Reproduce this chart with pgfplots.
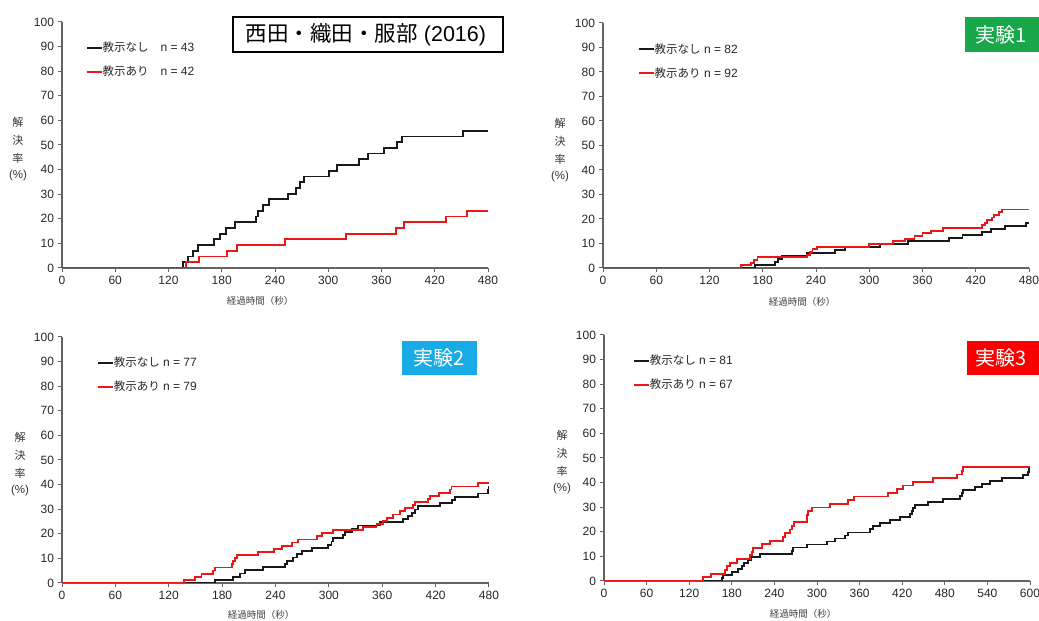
\documentclass[border=0pt]{standalone}
\usepackage{fontspec}
\setmainfont{Liberation Sans}
\newfontfamily\jp{Noto Sans CJK JP}
\usepackage{pgfplots}
\pgfplotsset{compat=1.18}
\definecolor{myred}{RGB}{235,22,22}
\definecolor{mygreen}{RGB}{24,168,74}
\definecolor{mycyan}{RGB}{25,171,230}
\definecolor{boxred}{RGB}{250,0,0}
\definecolor{axgray}{RGB}{100,100,100}
\pgfplotsset{panel/.style={
  scale only axis, width=426pt, height=246pt, anchor=south west,
  axis x line*=bottom, axis y line*=left,
  axis line style={draw=axgray, line width=1.2pt},
  xmin=0, xmax=480, ymin=0, ymax=100,
  xtick={0,60,...,480}, ytick={0,10,...,100},
  tick align=outside, major tick length=4.5pt,
  tick style={draw=axgray, line width=1pt},
  tick label style={font=\fontsize{12}{14}\selectfont, text=black!85},
  /pgf/number format/assume math mode=true,
  legend cell align=left,
  legend style={draw=none, fill=none, anchor=north west, inner sep=0pt, outer sep=0pt,
    row sep=14pt, column sep=0pt, font=\fontsize{12}{14}\selectfont, text=black!85,
    nodes={inner sep=0pt, text height=8.5pt, text depth=1.5pt, anchor=base west}},
  legend image code/.code={\draw[##1, line width=1.8pt] (0pt,4pt) -- (15pt,4pt);},
}}
\newcommand{\jl}[1]{{\jp\fontsize{11.5}{13}\selectfont #1}}
\newcommand{\ylab}[3]{%
  \node[font=\jp\fontsize{11}{12}\selectfont, text=black!80] at (#1pt,{(621-#2)*1pt}) {解};
  \node[font=\jp\fontsize{11}{12}\selectfont, text=black!80] at (#1pt,{(621-#2-18)*1pt}) {決};
  \node[font=\jp\fontsize{11}{12}\selectfont, text=black!80] at (#1pt,{(621-#2-36)*1pt}) {率};
  \node[font=\fontsize{11.5}{12}\selectfont, text=black!80] at (#1pt,{(621-#2-54)*1pt}) {(\%)};
}
\newcommand{\xlab}[2]{\node[font=\jp\fontsize{9.5}{11}\selectfont, text=black!75] at (#1pt,{(621-#2)*1pt}) {経過時間（秒）};}
\begin{document}
\begin{tikzpicture}
\path[use as bounding box] (0,0) rectangle (1039pt,621pt);
% Panel 1
\begin{axis}[panel, at={(62pt,353pt)}, legend style={at={(0.056,0.914)}}]
\addplot[const plot, black!90, line width=1.8pt] coordinates {(0,0)(136.7,2.33)(141.6,4.65)(148,6.98)(152.9,9.30)(171.6,11.63)(178,13.95)(184.8,16.28)(194.9,18.60)(218.2,20.93)(221.2,23.26)(226.1,25.58)(233.2,27.91)(254.3,30.23)(263.7,32.56)(268.2,34.88)(272.7,37.21)(300.5,39.53)(310.3,41.86)(335,44.19)(345.2,46.51)(362.8,48.84)(377.1,51.16)(382.7,53.49)(452.2,55.81)(480,55.81)};
\addlegendentry{\jl{教示なし}\hspace{12pt}n = 43}
\addplot[const plot, myred, line width=1.8pt] coordinates {(0,0)(139.4,2.33)(154,4.66)(185.5,6.99)(196.8,9.32)(251.3,11.65)(320,13.98)(376.4,16.31)(385.4,18.64)(432.3,20.97)(456.7,23.30)(480,23.30)};
\addlegendentry{\jl{教示あり}\hspace{12pt}n = 42}
\end{axis}
% Panel 2
\begin{axis}[panel, at={(603pt,353pt)}, height=245pt, legend style={at={(0.082,0.912)}}]
\addplot[const plot, black!90, line width=1.8pt] coordinates {(0,0)(171.3,1.22)(193.8,2.44)(197.5,3.66)(201.3,4.88)(230,6.10)(261.4,7.32)(272.7,8.54)(312,9.76)(344,10.98)(390,12.20)(405,13.41)(427,14.63)(437,15.85)(453,17.07)(477,18.29)(480,18.29)};
\addlegendentry{\jl{教示なし} n = 82}
\addplot[const plot, myred, line width=1.8pt] coordinates {(0,0)(155.5,1.09)(167,2.17)(170,3.26)(174,4.35)(230,5.43)(233,6.52)(236,7.61)(241,8.70)(300,9.78)(327,10.87)(340,11.96)(351,13.04)(360,14.13)(370,15.22)(383,16.30)(427,17.39)(430,18.48)(433,19.57)(438,20.65)(441,21.74)(446,22.83)(450,23.91)(480,23.91)};
\addlegendentry{\jl{教示あり} n = 92}
\end{axis}
% Panel 3
\begin{axis}[panel, at={(62pt,38pt)}, width=427pt, legend style={at={(0.082,0.914)}}]
\addplot[const plot, black!90, line width=1.8pt] coordinates {(0,0)(172,1.30)(192.6,2.60)(200,3.90)(205.7,5.19)(226.3,6.49)(250.7,7.79)(252.5,9.09)(260,10.39)(264,11.69)(269.4,12.99)(280.6,14.29)(299.4,15.58)(303,16.88)(305,18.18)(316.2,19.48)(318,20.78)(325.6,22.08)(333,23.38)(357.4,24.68)(383.7,25.97)(389.3,27.27)(393,28.57)(396.8,29.87)(400.5,31.17)(424.9,32.47)(438,33.77)(441.7,35.06)(468,36.36)(479.2,37.66)(479.6,38.96)(480,38.96)};
\addlegendentry{\jl{教示なし} n = 77}
\addplot[const plot, myred, line width=1.8pt] coordinates {(0,0)(137,1.27)(149.5,2.53)(156.9,3.80)(170,5.06)(172,6.33)(190.7,7.59)(192.5,8.86)(194.5,10.13)(197,11.39)(220.7,12.66)(238.3,13.92)(246.9,15.19)(258.2,16.46)(265.7,17.72)(286.3,18.99)(292,20.25)(305,21.52)(338.7,22.78)(353.6,24.05)(361.2,25.32)(365,26.58)(372.4,27.85)(380,29.11)(385.6,30.38)(394.9,31.65)(396.8,32.91)(411.7,34.18)(413.5,35.44)(424,36.71)(436,37.97)(437.8,39.24)(468,40.51)(480,40.51)};
\addlegendentry{\jl{教示あり} n = 79}
\end{axis}
% Panel 4
\begin{axis}[panel, at={(604pt,40pt)}, xmax=600, xtick={0,60,...,600}, legend style={at={(0.068,0.914)}}]
\addplot[const plot, black!90, line width=1.8pt] coordinates {(0,0)(166.2,1.23)(168,2.47)(179.8,3.70)(189.2,4.94)(194,6.17)(197.3,7.41)(203.3,8.64)(206.6,9.88)(219.7,11.11)(264.3,12.35)(266.6,13.58)(285.5,14.81)(313.6,16.05)(325.4,17.28)(339.4,18.52)(344,19.75)(374.7,20.99)(379.4,22.22)(388.7,23.46)(402.8,24.69)(416.9,25.93)(431,27.16)(433.3,28.40)(435.7,29.63)(438,30.86)(456.8,32.10)(478,33.33)(501.4,34.57)(503.8,35.80)(506,37.04)(522.6,38.27)(532,39.51)(543.7,40.74)(560,41.98)(590.6,43.21)(597.7,44.44)(599,45.68)(600,45.68)};
\addlegendentry{\jl{教示なし} n = 81}
\addplot[const plot, myred, line width=1.8pt] coordinates {(0,0)(139.9,1.49)(150.2,2.99)(170.4,4.48)(172.7,5.97)(177.5,7.46)(187.8,8.96)(205.6,10.45)(207.9,11.94)(209.4,13.43)(222,14.93)(233.8,16.42)(252.6,17.91)(255,19.40)(262,20.90)(264.3,22.39)(267.6,23.88)(285.5,25.37)(286.4,26.87)(287.8,28.36)(293.4,29.85)(318.3,31.34)(344,32.84)(352.6,34.33)(400.5,35.82)(413.2,37.31)(421.6,38.81)(435.7,40.30)(463.9,41.79)(496.7,43.28)(503.8,44.78)(506,46.27)(600,46.27)};
\addlegendentry{\jl{教示あり} n = 67}
\end{axis}
% y labels
\ylab{18}{122}{}
\ylab{560}{123}{}
\ylab{20}{437}{}
\ylab{562}{435}{}
% x labels
\xlab{260}{301}
\xlab{802}{302}
\xlab{261}{615}
\xlab{803}{614}
% title boxes
\draw[line width=1.5pt, fill=white] (233pt,569pt) rectangle (503pt,604pt);
\node[font=\fontsize{21.5}{24}\selectfont] at (366pt,586.5pt) {{\jp 西田・織田・服部} (2016)};
\fill[mygreen] (965pt,569.3pt) rectangle (1045pt,603.7pt);
\node[font=\jp\fontsize{20}{24}\selectfont, text=white] at (1001pt,586.5pt) {実験1};
\fill[mycyan] (402pt,246pt) rectangle (477pt,280pt);
\node[font=\jp\fontsize{20}{24}\selectfont, text=white] at (439pt,263pt) {実験2};
\fill[boxred] (967pt,246pt) rectangle (1045pt,280pt);
\node[font=\jp\fontsize{20}{24}\selectfont, text=white] at (1001.5pt,263pt) {実験3};
\end{tikzpicture}
\end{document}
